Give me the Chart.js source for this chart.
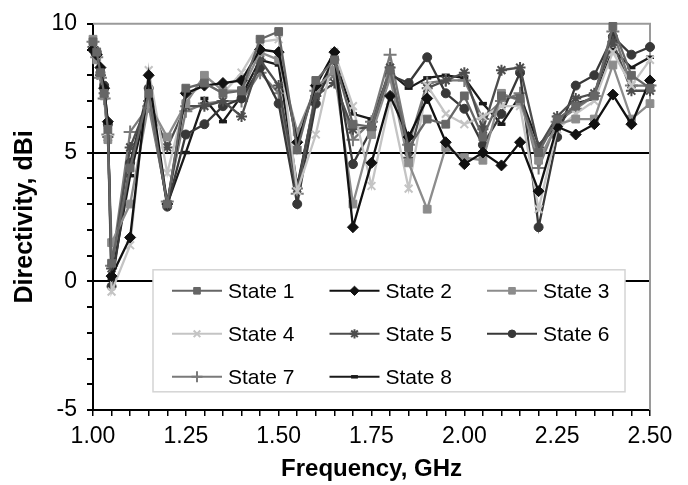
<!DOCTYPE html>
<html>
<head>
<meta charset="utf-8">
<script src="https://cdn.jsdelivr.net/npm/chart.js@4/dist/chart.umd.min.js"></script>
<style>
  html, body { margin: 0; padding: 0; background: #fff; }
  #wrap { width: 688px; height: 485px; }
</style>
</head>
<body>
<div id="wrap"><canvas id="chart" width="688" height="485"></canvas></div>
<script>
const freq = [1.00, 1.01, 1.02, 1.03, 1.04, 1.05, 1.10, 1.15, 1.20, 1.25, 1.30, 1.35, 1.40, 1.45, 1.50,
  1.55, 1.60, 1.65, 1.70, 1.75, 1.80, 1.85, 1.90, 1.95, 2.00, 2.05, 2.10, 2.15, 2.20, 2.25, 2.30,
  2.35, 2.40, 2.45, 2.50];

const state1 = [9.3, 8.9, 8.1, 7.3, 5.9, 0.7, 4.4, 7.3, 3.0, 7.5, 7.7, 7.3, 7.4, 9.4, 9.7,
  5.1, 7.8, 8.6, 6.1, 6.0, 8.2, 5.2, 6.3, 6.1, 7.2, 5.6, 7.2, 7.1, 5.0, 6.3, 6.8, 7.2, 9.9, 8.0, 7.5];
const state2 = [9.0, 8.8, 8.3, 7.5, 6.2, 0.2, 1.7, 8.0, 3.0, 7.3, 7.6, 7.7, 7.8, 9.0, 8.9,
  5.4, 7.6, 8.9, 2.1, 4.6, 7.2, 5.6, 7.1, 5.4, 4.55, 5.0, 4.5, 5.4, 3.5, 6.0, 5.7, 6.1, 7.25, 6.1, 7.8];
const state3 = [9.4, 8.6, 8.0, 7.2, 5.5, 1.5, 3.0, 6.9, 5.6, 6.9, 8.0, 7.4, 7.4, 8.9, 8.6,
  5.8, 7.5, 8.2, 3.0, 5.7, 7.9, 4.6, 2.8, 5.2, 4.8, 4.7, 7.3, 7.0, 4.7, 6.1, 6.3, 6.3, 8.4, 6.3, 6.9];
const state4 = [9.2, 8.9, 8.2, 7.4, 5.8, -0.4, 1.4, 8.2, 4.2, 7.1, 7.7, 7.3, 8.1, 9.3, 9.4,
  3.5, 5.7, 8.9, 6.8, 3.7, 7.0, 3.6, 7.6, 6.5, 6.1, 6.4, 6.8, 6.8, 2.8, 5.9, 6.5, 7.0, 8.9, 7.6, 8.6];
const state5 = [9.1, 8.8, 8.0, 7.3, 5.6, 0.5, 5.2, 7.0, 5.2, 6.8, 6.8, 7.0, 6.4, 8.6, 7.6,
  3.6, 7.2, 7.7, 5.9, 6.0, 8.3, 4.8, 7.5, 7.8, 8.1, 5.9, 8.2, 8.3, 5.2, 6.4, 7.1, 7.3, 9.3, 7.4, 7.4];
const state6 = [9.0, 8.9, 8.1, 7.6, 6.1, -0.2, 4.6, 7.5, 2.9, 5.7, 6.1, 6.8, 7.1, 8.3, 6.9,
  3.0, 6.9, 8.6, 4.55, 5.9, 8.0, 7.7, 8.7, 7.3, 6.7, 5.3, 6.5, 8.1, 2.1, 5.6, 7.6, 8.0, 9.5, 8.8, 9.1];
const state7 = [9.3, 8.7, 7.9, 7.1, 5.7, 0.6, 5.8, 6.8, 3.1, 6.6, 6.9, 7.0, 7.0, 8.1, 7.3,
  3.4, 7.4, 8.0, 5.5, 6.2, 8.8, 5.3, 7.7, 7.8, 7.8, 6.3, 7.0, 7.3, 4.4, 6.2, 6.7, 7.2, 9.7, 7.6, 7.6];
const state8 = [9.2, 9.0, 8.2, 7.4, 6.0, 0.1, 4.1, 7.1, 3.0, 5.0, 7.1, 6.2, 7.2, 8.6, 8.4,
  3.7, 7.2, 8.7, 6.5, 6.3, 8.1, 7.5, 7.9, 8.0, 7.9, 6.9, 6.1, 7.2, 5.3, 6.0, 6.9, 7.1, 9.0, 8.3, 8.7];

const seriesNames = ["State 1", "State 2", "State 3", "State 4", "State 5", "State 6", "State 7", "State 8"];
const seriesValues = [state1, state2, state3, state4, state5, state6, state7, state8];

// look of each series: colour, marker
const styles = [
  { color: "#666666", point: "rect", radius: 5.5, pbw: 1 },
  { color: "#111111", point: "rectRot", radius: 5.5, pbw: 1 },
  { color: "#8c8c8c", point: "rect", radius: 5.5, pbw: 1 },
  { color: "#c4c4c4", point: "crossRot", radius: 5.5, pbw: 2 },
  { color: "#4d4d4d", point: "star", radius: 5.5, pbw: 2 },
  { color: "#383838", point: "circle", radius: 4.5, pbw: 1 },
  { color: "#7a7a7a", point: "cross", radius: 6.5, pbw: 2 },
  { color: "#1a1a1a", point: "line", radius: 4, pbw: 3.5 },
];

const datasets = seriesNames.map((name, i) => ({
  label: name,
  data: freq.map((f, j) => ({ x: f, y: seriesValues[i][j] })),
  borderColor: styles[i].color,
  backgroundColor: styles[i].color,
  borderWidth: 2.3,
  pointStyle: styles[i].point,
  pointRadius: styles[i].radius,
  pointBorderWidth: styles[i].pbw,
  pointBackgroundColor: styles[i].color,
  pointBorderColor: styles[i].color,
  tension: 0,
  clip: false,
}));

// gray frame on top and right of the plot
const framePlugin = {
  id: "frame",
  beforeDatasetsDraw(chart) {
    const { ctx, chartArea: a } = chart;
    ctx.save();
    ctx.strokeStyle = "#9a9a9a";
    ctx.lineWidth = 2;
    ctx.beginPath();
    ctx.moveTo(a.left, a.top);
    ctx.lineTo(a.right, a.top);
    ctx.lineTo(a.right, a.bottom);
    ctx.stroke();
    ctx.restore();
  },
};

// boxed legend inside the plot area, 3 columns
const boxLegend = {
  id: "boxLegend",
  afterDatasetsDraw(chart) {
    const { ctx, chartArea: a } = chart;
    const left = a.left + 60, top = a.top + 246, w = 472, h = 122;
    ctx.save();
    ctx.fillStyle = "#fff";
    ctx.fillRect(left, top, w, h);
    ctx.strokeStyle = "#d4d4d4";
    ctx.lineWidth = 1.5;
    ctx.strokeRect(left, top, w, h);
    ctx.font = "21px 'Liberation Sans', Arial, sans-serif";
    ctx.textBaseline = "middle";
    chart.data.datasets.forEach((ds, i) => {
      const col = i % 3, row = Math.floor(i / 3);
      const x0 = left + 19 + col * 157.5;
      const y = top + 21 + row * 43;
      ctx.strokeStyle = ds.borderColor;
      ctx.lineWidth = 2;
      ctx.beginPath();
      ctx.moveTo(x0, y);
      ctx.lineTo(x0 + 50, y);
      ctx.stroke();
      ctx.fillStyle = ds.borderColor;
      ctx.lineWidth = ds.pointBorderWidth;
      Chart.helpers.drawPoint(ctx, {
        pointStyle: ds.pointStyle,
        radius: ds.pointRadius * 0.85,
        rotation: 0,
        borderWidth: ds.pointBorderWidth,
      }, x0 + 25, y);
      ctx.fillStyle = "#000";
      ctx.fillText(ds.label, x0 + 56, y + 1);
    });
    ctx.restore();
  },
};

const tickFont = { family: "'Liberation Sans', Arial, sans-serif", size: 23 };

new Chart(document.getElementById("chart"), {
  type: "line",
  data: { datasets },
  options: {
    responsive: false,
    animation: false,
    layout: { padding: { top: 20, right: 38, left: 0, bottom: 0 } },
    plugins: { legend: { display: false }, tooltip: { enabled: false } },
    scales: {
      x: {
        type: "linear",
        min: 1,
        max: 2.5,
        afterFit: (s) => { s.height = 75; },
        border: { color: "#000", width: 2 },
        grid: { drawOnChartArea: false, color: "#000", tickColor: "#000", tickLength: 6, lineWidth: 1.5 },
        ticks: {
          stepSize: 0.05,
          autoSkip: false,
          maxRotation: 0,
          padding: 7,
          color: "#000",
          font: tickFont,
          callback: (v) => (Math.abs(v * 4 - Math.round(v * 4)) < 1e-6 ? v.toFixed(2) : ""),
        },
        title: {
          display: true,
          text: "Frequency, GHz",
          color: "#000",
          font: { family: "'Liberation Sans', Arial, sans-serif", size: 24, weight: "bold" },
          padding: { top: 1, bottom: 1 },
        },
      },
      y: {
        min: -5,
        max: 10,
        afterFit: (s) => { s.width = 93; },
        border: { color: "#000", width: 2 },
        grid: {
          color: (c) => (c.tick && (c.tick.value === 0 || c.tick.value === 5) ? "#000" : "rgba(0,0,0,0)"),
          tickColor: "#000",
          tickLength: 6,
          lineWidth: 2,
        },
        ticks: {
          stepSize: 1,
          autoSkip: false,
          padding: 10,
          color: "#000",
          font: tickFont,
          callback: (v) => (v % 5 === 0 ? String(v) : ""),
        },
        title: {
          display: true,
          text: "Directivity, dBi",
          color: "#000",
          font: { family: "'Liberation Sans', Arial, sans-serif", size: 25, weight: "bold" },
          padding: { top: 10, bottom: 0 },
        },
      },
    },
  },
  plugins: [framePlugin, boxLegend],
});
</script>
</body>
</html>
